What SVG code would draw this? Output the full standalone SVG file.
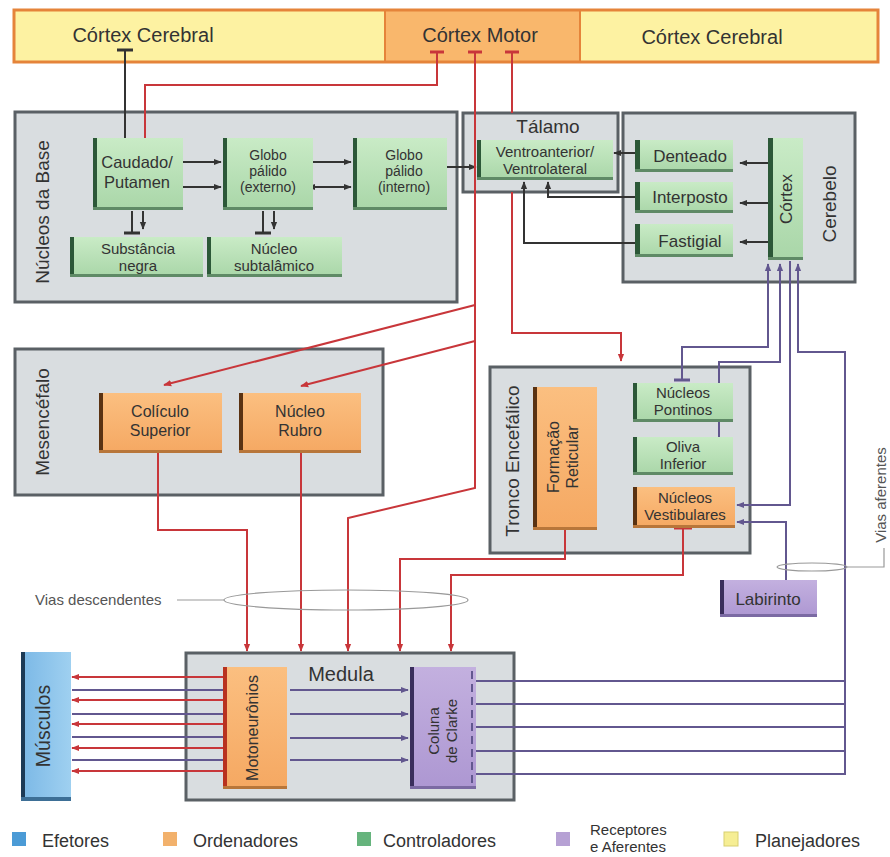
<svg xmlns="http://www.w3.org/2000/svg" width="890" height="857" viewBox="0 0 890 857">
<defs>
<linearGradient id="gG" x1="0" y1="0" x2="0" y2="1"><stop offset="0" stop-color="#c9ebc6"/><stop offset="1" stop-color="#a9d6a8"/></linearGradient>
<linearGradient id="gO" x1="0" y1="0" x2="0" y2="1"><stop offset="0" stop-color="#fbbf80"/><stop offset="1" stop-color="#f5a862"/></linearGradient>
<linearGradient id="gP" x1="0" y1="0" x2="0" y2="1"><stop offset="0" stop-color="#c3b0df"/><stop offset="1" stop-color="#ad97d2"/></linearGradient>
<linearGradient id="gB" x1="0" y1="0" x2="1" y2="0"><stop offset="0" stop-color="#7bb8e6"/><stop offset="1" stop-color="#9fd0f0"/></linearGradient>
<marker id="aK" viewBox="0 0 10 10" refX="9" refY="5" markerWidth="8" markerHeight="8" markerUnits="userSpaceOnUse" orient="auto-start-reverse"><path d="M0,1 L10,5 L0,9 z" fill="#333"/></marker>
<marker id="aR" viewBox="0 0 10 10" refX="9" refY="5" markerWidth="8" markerHeight="8" markerUnits="userSpaceOnUse" orient="auto-start-reverse"><path d="M0,1 L10,5 L0,9 z" fill="#c8363a"/></marker>
<marker id="aP" viewBox="0 0 10 10" refX="9" refY="5" markerWidth="8" markerHeight="8" markerUnits="userSpaceOnUse" orient="auto-start-reverse"><path d="M0,1 L10,5 L0,9 z" fill="#62578f"/></marker>
</defs>
<style>
text{font-family:"Liberation Sans",Arial,sans-serif;fill:#333}
.box{fill:#d9dde0;stroke:#5a6065;stroke-width:3}
.gn{fill:url(#gG)} .gL{fill:#2c5838} .gS{fill:#5f8a66}
.on{fill:url(#gO)} .oL{fill:#5a3212} .oS{fill:#b8763a}
.pn{fill:url(#gP)} .pL{fill:#3a2e5c} .pS{fill:#7b6aa3}
.k{fill:none;stroke:#333;stroke-width:2}
.kt{fill:none;stroke:#333;stroke-width:3}
.r{fill:none;stroke:#c8363a;stroke-width:2}
.rt{fill:none;stroke:#c8363a;stroke-width:3}
.p{fill:none;stroke:#62578f;stroke-width:2}
.pt{fill:none;stroke:#62578f;stroke-width:3}
.ak{marker-end:url(#aK)} .ar{marker-end:url(#aR)} .ap{marker-end:url(#aP)}
.nt{font-size:15px;text-anchor:middle}
.n14{font-size:14px} .n16{font-size:16px} .n165{font-size:16.5px} .n17{font-size:17px} .n19{font-size:19.5px}
.gt{font-size:19px;text-anchor:middle}
.lg{font-size:18px}
.ann{fill:none;stroke:#999;stroke-width:1.2}
</style>
<rect width="890" height="857" fill="#ffffff"/>

<!-- top bar -->
<g id="cortex-bar">
<rect x="14" y="10" width="371" height="52" fill="#fdf2a2"/>
<rect x="385" y="10" width="195" height="52" fill="#f9b76c"/>
<rect x="580" y="10" width="298" height="52" fill="#fdf2a2"/>
<rect x="14" y="10" width="864" height="52" fill="none" stroke="#e5843a" stroke-width="3"/>
<line x1="385" y1="10" x2="385" y2="62" stroke="#e5843a" stroke-width="2"/>
<line x1="580" y1="10" x2="580" y2="62" stroke="#e5843a" stroke-width="2"/>
<text x="143" y="42" font-size="20" text-anchor="middle">Córtex Cerebral</text>
<text x="480" y="42" font-size="20" text-anchor="middle">Córtex Motor</text>
<text x="712" y="44" font-size="20" text-anchor="middle">Córtex Cerebral</text>
</g>

<!-- group boxes -->
<g id="nucleos-base-box"><rect class="box" x="15" y="112" width="442" height="190"/>
<text class="gt" transform="rotate(-90 49 212)" x="49" y="212">Núcleos da Base</text></g>
<g id="talamo-box"><rect class="box" x="463" y="113" width="155" height="79"/>
<text class="gt" x="548" y="133">Tálamo</text></g>
<g id="cerebelo-box"><rect class="box" x="623" y="113" width="232" height="169"/>
<text class="gt" transform="rotate(-90 836 204)" x="836" y="204">Cerebelo</text></g>
<g id="mesencefalo-box"><rect class="box" x="15" y="349" width="368" height="146"/>
<text class="gt" transform="rotate(-90 49 422)" x="49" y="422">Mesencéfalo</text></g>
<g id="tronco-box"><rect class="box" x="490" y="367" width="260" height="186"/>
<text class="gt" transform="rotate(-90 519 461)" x="519" y="461">Tronco Encefálico</text></g>
<g id="medula-box"><rect class="box" x="186" y="653" width="328" height="147"/>
<text class="gt" x="341" y="681" style="font-size:20px">Medula</text></g>

<!-- connectors -->
<g id="connectors">
<!-- black -->
<path class="kt" d="M117,50 H133"/>
<path class="k ak" d="M125,50 V147"/>
<path class="k ak" d="M182,162 H221"/><path class="kt" d="M181,155 V169"/>
<path class="k ak" d="M182,187 H221"/><path class="kt" d="M181,180 V194"/>
<path class="k ak" d="M305,162 H351"/><path class="kt" d="M304,155 V169"/>
<path class="k ak" d="M308,187 H351" marker-start="url(#aK)"/><path class="kt" d="M304,180 V194"/>
<path class="k ak" d="M437,167 H476"/><path class="kt" d="M436,160 V174"/>
<path class="k" d="M132,211 V233"/><path class="kt" d="M124,233 H140"/>
<path class="k ak" d="M143,211 V229"/>
<path class="k" d="M263,211 V233"/><path class="kt" d="M255,233 H271"/>
<path class="k ak" d="M274,211 V229"/>
<path class="k ak" d="M640,153 H614"/>
<path class="k ak" d="M640,197 H548 V182"/>
<path class="k ak" d="M640,243 H524 V182"/>
<path class="k ak" d="M772,163 H740"/><path class="kt" d="M772,156 V170"/>
<path class="k ak" d="M772,203 H740"/><path class="kt" d="M772,196 V210"/>
<path class="k ak" d="M772,242 H740"/><path class="kt" d="M772,235 V249"/>
<!-- red -->
<path class="rt" d="M430,52 H444"/>
<path class="r ar" d="M437,52 V85 H145 V147"/>
<path class="rt" d="M468,52 H482"/>
<path class="r ar" d="M475,52 V488 L348,518 V651"/>
<path class="r ar" d="M475,305 L164,385"/>
<path class="r ar" d="M475,341 L301,386"/>
<path class="rt" d="M505,52 H519"/>
<path class="r" d="M512,52 V113"/>
<path class="r ar" d="M512,192 V333 H621 V361"/>
<path class="rt" d="M150,447 H166"/>
<path class="r ar" d="M158,447 V530 H247 V651"/>
<path class="rt" d="M293,447 H309"/>
<path class="r ar" d="M301,447 V651"/>
<path class="rt" d="M556,520 H574"/>
<path class="r ar" d="M565,520 V559 H400 V651"/>
<path class="rt" d="M674,528 H692"/>
<path class="r ar" d="M683,528 V575 H451 V651"/>
<path class="r ar" d="M223,677 H72"/>
<path class="r ar" d="M223,700 H72"/>
<path class="r ar" d="M223,724 H72"/>
<path class="r ar" d="M223,748 H72"/>
<path class="r ar" d="M223,771 H72"/>
<!-- purple -->
<path class="p" d="M72,690 H223"/>
<path class="p" d="M72,714 H223"/>
<path class="p" d="M72,737 H223"/>
<path class="p" d="M72,760 H223"/>
<path class="p ap" d="M290,690 H408"/>
<path class="p ap" d="M290,714 H408"/>
<path class="p ap" d="M290,738 H408"/>
<path class="p ap" d="M290,760 H408"/>
<path class="p" d="M474,681 H845"/>
<path class="p" d="M474,704 H845"/>
<path class="p" d="M474,727 H845"/>
<path class="p" d="M474,751 H845"/>
<path class="p ap" d="M474,774 H845 V352 H798 V264"/>
<path class="p ap" d="M682,380 V347 H768 V264"/>
<path class="pt" d="M674,380 H690"/>
<path class="p ap" d="M719,437 V362 H780 V264"/>
<path class="p ap" d="M790,261 V505 H737"/>
<path class="p ap" d="M786,586 V522 H737"/>
<path class="pt" d="M778,586 H794"/>
<!-- annotations -->
<ellipse class="ann" cx="346" cy="600" rx="122" ry="10"/>
<path class="ann" d="M177,600 H224"/>
<ellipse class="ann" cx="812" cy="567" rx="35" ry="4"/>
<path class="ann" d="M847,567 H884 V548"/>
</g>

<!-- nodes -->
<g id="caudado-putamen"><rect class="gn" x="93" y="138" width="90" height="72"/><rect class="gL" x="93" y="138" width="4" height="72"/><rect class="gS" x="93" y="207" width="90" height="3"/>
<text class="nt n165" x="137" y="168">Caudado/</text><text class="nt n165" x="137" y="188">Putamen</text></g>
<g id="globo-palido-externo"><rect class="gn" x="223" y="138" width="90" height="72"/><rect class="gL" x="223" y="138" width="4" height="72"/><rect class="gS" x="223" y="207" width="90" height="3"/>
<text class="nt n14" x="268" y="160">Globo</text><text class="nt n14" x="268" y="176">pálido</text><text class="nt n14" x="268" y="192">(externo)</text></g>
<g id="globo-palido-interno"><rect class="gn" x="353" y="138" width="94" height="72"/><rect class="gL" x="353" y="138" width="4" height="72"/><rect class="gS" x="353" y="207" width="94" height="3"/>
<text class="nt n14" x="404" y="160">Globo</text><text class="nt n14" x="404" y="176">pálido</text><text class="nt n14" x="404" y="192">(interno)</text></g>
<g id="substancia-negra"><rect class="gn" x="70" y="237" width="133" height="40"/><rect class="gL" x="70" y="237" width="4" height="40"/><rect class="gS" x="70" y="274" width="133" height="3"/>
<text class="nt" x="138" y="254">Substância</text><text class="nt" x="138" y="271">negra</text></g>
<g id="nucleo-subtalamico"><rect class="gn" x="207" y="237" width="135" height="40"/><rect class="gL" x="207" y="237" width="4" height="40"/><rect class="gS" x="207" y="274" width="135" height="3"/>
<text class="nt" x="274" y="254">Núcleo</text><text class="nt" x="274" y="271">subtalâmico</text></g>
<g id="ventroanterior"><rect class="gn" x="477" y="140" width="136" height="40"/><rect class="gL" x="477" y="140" width="4" height="40"/><rect class="gS" x="477" y="177" width="136" height="3"/>
<text class="nt" x="545" y="157">Ventroanterior/</text><text class="nt" x="545" y="174">Ventrolateral</text></g>
<g id="denteado"><rect class="gn" x="635" y="140" width="98" height="32"/><rect class="gL" x="635" y="140" width="5" height="32"/><rect class="gS" x="635" y="169" width="98" height="3"/>
<text class="nt n17" x="690" y="162">Denteado</text></g>
<g id="interposto"><rect class="gn" x="635" y="182" width="98" height="31"/><rect class="gL" x="635" y="182" width="5" height="31"/><rect class="gS" x="635" y="210" width="98" height="3"/>
<text class="nt n17" x="690" y="203">Interposto</text></g>
<g id="fastigial"><rect class="gn" x="635" y="224" width="98" height="33"/><rect class="gL" x="635" y="224" width="5" height="33"/><rect class="gS" x="635" y="254" width="98" height="3"/>
<text class="nt n17" x="690" y="247">Fastigial</text></g>
<g id="cortex-cerebelo"><rect class="gn" x="768" y="138" width="35" height="122"/><rect class="gL" x="768" y="138" width="5" height="122"/><rect class="gS" x="768" y="257" width="35" height="3"/>
<text class="nt n17" transform="rotate(-90 792 199)" x="792" y="199">Córtex</text></g>
<g id="coliculo-superior"><rect class="on" x="99" y="393" width="123" height="60"/><rect class="oL" x="99" y="393" width="4" height="60"/><rect class="oS" x="99" y="450" width="123" height="3"/>
<text class="nt n16" x="160" y="417">Colículo</text><text class="nt n16" x="160" y="436">Superior</text></g>
<g id="nucleo-rubro"><rect class="on" x="239" y="393" width="122" height="60"/><rect class="oL" x="239" y="393" width="4" height="60"/><rect class="oS" x="239" y="450" width="122" height="3"/>
<text class="nt n16" x="300" y="417">Núcleo</text><text class="nt n16" x="300" y="436">Rubro</text></g>
<g id="formacao-reticular"><rect class="on" x="533" y="387" width="64" height="143"/><rect class="oL" x="533" y="387" width="4" height="143"/><rect class="oS" x="533" y="527" width="64" height="3"/>
<text class="nt n16" transform="rotate(-90 559 457)" x="559" y="457">Formação</text><text class="nt n16" transform="rotate(-90 578 457)" x="578" y="457">Reticular</text></g>
<g id="nucleos-pontinos"><rect class="gn" x="633" y="383" width="100" height="39"/><rect class="gL" x="633" y="383" width="4" height="39"/><rect class="gS" x="633" y="419" width="100" height="3"/>
<text class="nt" x="683" y="398">Núcleos</text><text class="nt" x="683" y="415">Pontinos</text></g>
<g id="oliva-inferior"><rect class="gn" x="633" y="437" width="100" height="38"/><rect class="gL" x="633" y="437" width="4" height="38"/><rect class="gS" x="633" y="472" width="100" height="3"/>
<text class="nt" x="683" y="452">Oliva</text><text class="nt" x="683" y="469">Inferior</text></g>
<g id="nucleos-vestibulares"><rect class="on" x="633" y="487" width="102" height="41"/><rect class="oL" x="633" y="487" width="4" height="41"/><rect class="oS" x="633" y="525" width="102" height="3"/>
<text class="nt" x="685" y="503">Núcleos</text><text class="nt" x="685" y="520">Vestibulares</text></g>
<g id="labirinto"><rect class="pn" x="720" y="580" width="97" height="37"/><rect class="pL" x="720" y="580" width="4" height="37"/><rect class="pS" x="720" y="614" width="97" height="3"/>
<text class="nt n17" x="768" y="605">Labirinto</text></g>
<g id="motoneuronios"><rect class="on" x="223" y="667" width="64" height="122"/><rect x="223" y="667" width="4" height="122" fill="#b8321f"/><rect class="oS" x="223" y="786" width="64" height="3"/>
<text class="nt n16" transform="rotate(-90 258 728)" x="258" y="728">Motoneurônios</text></g>
<g id="coluna-de-clarke"><rect class="pn" x="410" y="667" width="66" height="122"/><rect class="pL" x="410" y="667" width="4" height="122"/><rect class="pS" x="410" y="786" width="66" height="3"/>
<line x1="472" y1="671" x2="472" y2="786" stroke="#62578f" stroke-width="2" stroke-dasharray="8,5"/>
<text class="nt" transform="rotate(-90 439 731)" x="439" y="731">Coluna</text><text class="nt" transform="rotate(-90 457 731)" x="457" y="731">de Clarke</text></g>
<g id="musculos"><rect x="21" y="652" width="50" height="149" fill="url(#gB)"/><rect x="21" y="652" width="4" height="149" fill="#1c3a56"/><rect x="21" y="797" width="50" height="4" fill="#3d6f96"/>
<text class="nt n19" transform="rotate(-90 50 726)" x="50" y="726">Músculos</text></g>

<!-- annotation labels -->
<text x="35" y="605" font-size="15" style="fill:#555">Vias descendentes</text>
<text transform="rotate(-90 886 495)" x="886" y="495" font-size="15" text-anchor="middle" style="fill:#555">Vias aferentes</text>

<!-- legend -->
<g id="legend">
<rect x="12" y="832" width="14" height="14" fill="#4b9bd6"/><text class="lg" x="42" y="847">Efetores</text>
<rect x="163" y="832" width="14" height="14" fill="#f2b16c"/><text class="lg" x="193" y="847">Ordenadores</text>
<rect x="357" y="832" width="14" height="14" fill="#66b47d"/><text class="lg" x="383" y="847">Controladores</text>
<rect x="556" y="832" width="14" height="14" fill="#b6a1d4"/><text x="590" y="835" font-size="15">Receptores</text><text x="590" y="852" font-size="15">e Aferentes</text>
<rect x="724" y="832" width="14" height="14" fill="#f6ee94" stroke="#d8cf70"/><text class="lg" x="755" y="847">Planejadores</text>
</g>
</svg>
